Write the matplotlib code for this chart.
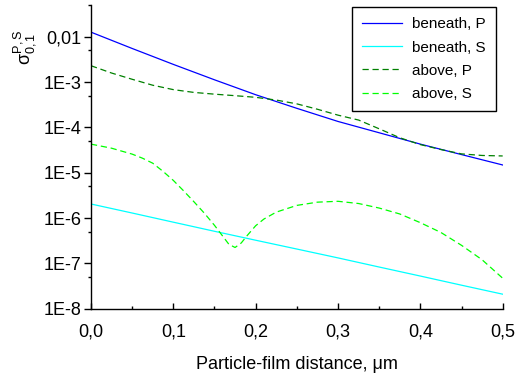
import numpy as np
import matplotlib
matplotlib.use('Agg')
import matplotlib.pyplot as plt
from matplotlib.ticker import FixedLocator, FixedFormatter

plt.rcParams['font.family'] = ['Liberation Sans', 'DejaVu Sans']
plt.rcParams['mathtext.fontset'] = 'custom'
plt.rcParams['mathtext.rm'] = 'Liberation Sans'
plt.rcParams['mathtext.it'] = 'Liberation Sans'

# distances (um)
x_coarse = [0.0, 0.05, 0.1, 0.15, 0.2, 0.25, 0.3, 0.35, 0.4, 0.45, 0.5]
beneath_P = [1.26e-2, 5.5e-3, 2.45e-3, 1.12e-3, 5.25e-4, 2.63e-4, 1.35e-4,
             7.6e-5, 4.27e-5, 2.51e-5, 1.48e-5]
beneath_S = [2.04e-6, 1.29e-6, 8.1e-7, 5.1e-7, 3.24e-7, 2.07e-7, 1.32e-7,
             8.3e-8, 5.25e-8, 3.3e-8, 2.09e-8]

x_fine = [0.0, 0.025, 0.05, 0.075, 0.1, 0.125, 0.15, 0.175, 0.2, 0.225, 0.25,
          0.275, 0.3, 0.325, 0.35, 0.375, 0.4, 0.425, 0.45, 0.475, 0.5]
above_P = [2.29e-3, 1.58e-3, 1.15e-3, 8.5e-4, 6.8e-4, 5.9e-4, 5.4e-4, 5.0e-4,
           4.6e-4, 4.0e-4, 3.3e-4, 2.51e-4, 1.86e-4, 1.45e-4, 9.3e-5, 5.9e-5,
           4.17e-5, 3.24e-5, 2.6e-5, 2.4e-5, 2.34e-5]

x_S = [0.0, 0.025, 0.05, 0.0625, 0.075, 0.0875, 0.1, 0.1125, 0.125, 0.1375,
       0.15, 0.16, 0.1675, 0.175, 0.1825, 0.19, 0.2, 0.21, 0.225, 0.25, 0.275,
       0.3, 0.325, 0.35, 0.375, 0.4, 0.425, 0.45, 0.475, 0.5]
above_S = [4.27e-5, 3.47e-5, 2.57e-5, 2.09e-5, 1.62e-5, 1.07e-5, 6.76e-6,
           3.98e-6, 2.29e-6, 1.29e-6, 6.9e-7, 3.98e-7, 2.63e-7, 2.24e-7,
           2.82e-7, 4.17e-7, 6.76e-7, 9.5e-7, 1.35e-6, 1.9e-6, 2.24e-6,
           2.34e-6, 2.09e-6, 1.66e-6, 1.23e-6, 7.9e-7, 4.8e-7, 2.5e-7,
           1.2e-7, 4.7e-8]

ytick_vals = [1e-8, 1e-7, 1e-6, 1e-5, 1e-4, 1e-3, 1e-2]
ytick_labels = ['1E-8', '1E-7', '1E-6', '1E-5', '1E-4', '1E-3', '0,01']
xtick_vals = [0.0, 0.1, 0.2, 0.3, 0.4, 0.5]
xtick_labels = ['0,0', '0,1', '0,2', '0,3', '0,4', '0,5']

fig = plt.figure(figsize=(5.25, 3.74), dpi=100)
ax = fig.add_axes([0.1733, 0.1746, 0.7842, 0.812])

ax.plot(x_coarse, beneath_P, color='#0000ff', lw=0.9, label='beneath, P')
ax.plot(x_coarse, beneath_S, color='#00ffff', lw=0.9, label='beneath, S')
ax.plot(x_fine, above_P, color='#008000', lw=0.9, ls=(0, (5, 3)), label='above, P')
ax.plot(x_S, above_S, color='#00ff00', lw=0.9, ls=(0, (5, 3)), label='above, S')

ax.set_yscale('log')
ax.set_xlim(0, 0.5)
ax.set_ylim(1e-8, 5e-2)

ax.yaxis.set_major_locator(FixedLocator(ytick_vals))
ax.yaxis.set_major_formatter(FixedFormatter(ytick_labels))
ax.yaxis.set_minor_locator(FixedLocator([5e-8, 5e-7, 5e-6, 5e-5, 5e-4, 5e-3, 5e-2]))
ax.yaxis.set_minor_formatter(FixedFormatter([]))
ax.xaxis.set_major_locator(FixedLocator(xtick_vals))
ax.xaxis.set_major_formatter(FixedFormatter(xtick_labels))
ax.xaxis.set_minor_locator(FixedLocator([0.05, 0.15, 0.25, 0.35, 0.45]))

ax.spines['top'].set_visible(False)
ax.spines['right'].set_visible(False)
for s in ['left', 'bottom']:
    ax.spines[s].set_linewidth(1.0)

ax.tick_params(axis='y', which='major', direction='out', length=5, width=1, pad=2, labelsize=13)
ax.tick_params(axis='y', which='minor', direction='out', length=2.5, width=1)
ax.tick_params(axis='x', which='major', direction='in', length=4.5, width=1, pad=10.5, labelsize=13)
ax.tick_params(axis='x', which='minor', direction='in', length=2.5, width=1)

ax.set_xlabel('Particle-film distance, \u03bcm', fontsize=13, labelpad=11)
fig.text(25 / 525, 1 - 47 / 374, r'$\sigma_{0,1}^{P,S}$', rotation=90,
         ha='center', va='center', fontsize=13)

leg = ax.legend(loc='upper right', bbox_to_anchor=(0.984, 0.993), fontsize=11,
                frameon=True, fancybox=False, edgecolor='black', framealpha=1,
                handlelength=2.6, handletextpad=0.7, labelspacing=0.6,
                borderpad=0.67, borderaxespad=0)
leg.get_frame().set_linewidth(1.0)

fig.savefig('out.png', dpi=100)
